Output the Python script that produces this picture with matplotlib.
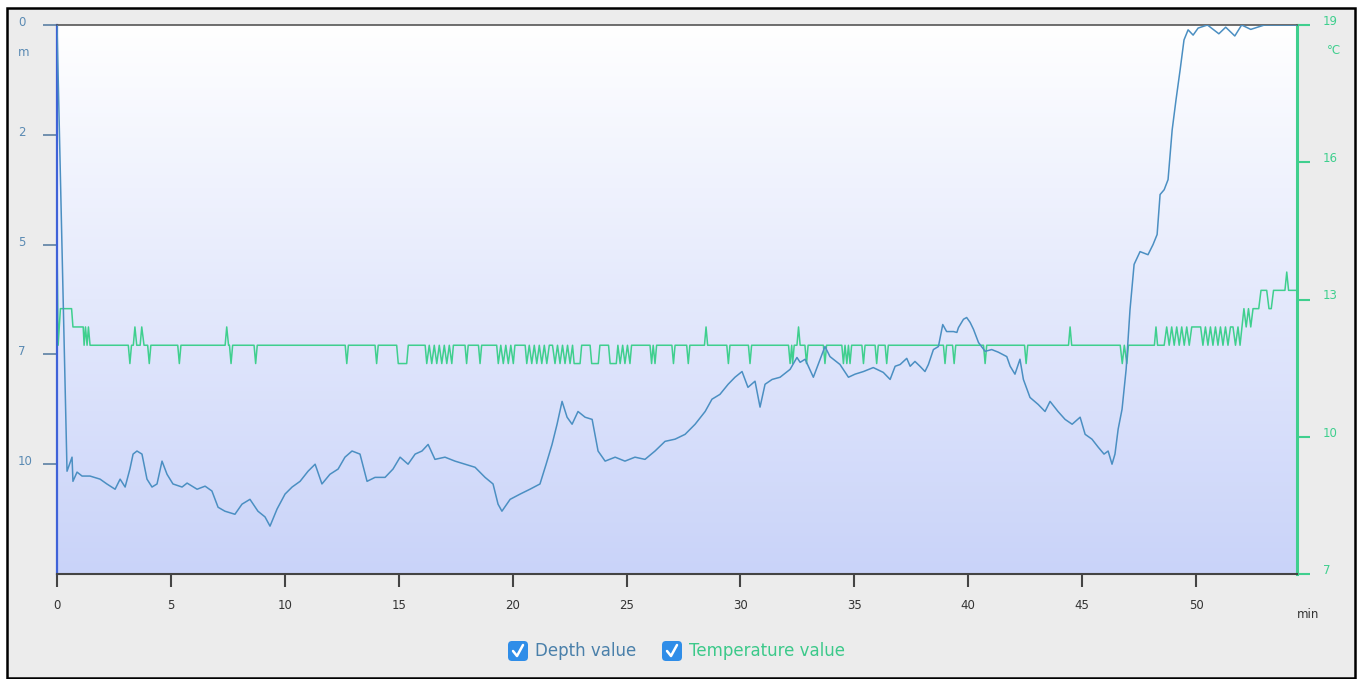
import numpy as np
import matplotlib.pyplot as plt
from matplotlib.patches import Rectangle, FancyBboxPatch
from matplotlib.lines import Line2D
from matplotlib.colors import LinearSegmentedColormap
from matplotlib.transforms import IdentityTransform, ScaledTranslation

# depth (m) against time (min)
depth_t = [0.0, 0.44, 0.66, 0.70, 0.88, 1.10, 1.45, 1.89, 2.19, 2.55, 2.77, 2.99, 3.20, 3.34,
           3.51, 3.73, 3.95, 4.17, 4.39, 4.61, 4.83, 5.09, 5.49, 5.71, 6.15, 6.50, 6.80, 7.07,
           7.37, 7.81, 8.12, 8.47, 8.82, 9.13, 9.35, 9.66, 10.01, 10.32, 10.67, 11.02, 11.33,
           11.63, 11.98, 12.34, 12.64, 12.95, 13.30, 13.61, 13.96, 14.40, 14.75, 15.06, 15.41,
           15.72, 16.02, 16.29, 16.59, 17.03, 17.47, 17.91, 18.35, 18.79, 19.14, 19.36, 19.53,
           19.89, 20.33, 20.76, 21.20, 21.47, 21.73, 21.95, 22.17, 22.39, 22.61, 22.87, 23.18,
           23.49, 23.75, 24.06, 24.50, 24.93, 25.37, 25.81, 26.25, 26.69, 27.13, 27.57, 28.01,
           28.45, 28.75, 29.10, 29.46, 29.76, 30.07, 30.33, 30.64, 30.86, 31.08, 31.39, 31.74,
           32.18, 32.48, 32.62, 32.84, 33.20, 33.71, 33.93, 34.37, 34.74, 35.03, 35.40, 35.83,
           36.27, 36.57, 36.79, 37.01, 37.30, 37.45, 37.66, 37.88, 38.10, 38.25, 38.47, 38.69,
           38.88, 39.05, 39.35, 39.50, 39.57, 39.79, 39.93, 40.08, 40.23, 40.45, 40.74, 41.03,
           41.32, 41.69, 41.84, 42.05, 42.27, 42.42, 42.71, 43.07, 43.37, 43.59, 43.94, 44.25,
           44.56, 44.91, 45.13, 45.43, 45.70, 45.96, 46.14, 46.31, 46.44, 46.58, 46.75, 46.93,
           47.10, 47.28, 47.54, 47.89, 48.11, 48.29, 48.42, 48.60, 48.77, 48.95, 49.12, 49.30,
           49.47, 49.65, 49.87, 50.09, 50.50, 51.00, 51.30, 51.70, 52.00, 52.40, 53.00, 54.43]
depth_m = [0.0, 10.16, 9.84, 10.39, 10.18, 10.27, 10.27, 10.34, 10.45, 10.57, 10.34, 10.52, 10.11,
           9.77, 9.70, 9.77, 10.34, 10.52, 10.45, 9.93, 10.23, 10.45, 10.52, 10.43, 10.57, 10.50,
           10.61, 10.98, 11.07, 11.14, 10.91, 10.80, 11.07, 11.20, 11.41, 11.02, 10.68, 10.52,
           10.39, 10.16, 10.00, 10.45, 10.23, 10.11, 9.84, 9.70, 9.77, 10.39, 10.30, 10.30, 10.11,
           9.84, 10.00, 9.77, 9.70, 9.55, 9.89, 9.84, 9.93, 10.00, 10.07, 10.30, 10.45, 10.91,
           11.07, 10.80, 10.68, 10.57, 10.45, 10.00, 9.55, 9.09, 8.57, 8.93, 9.09, 8.80, 8.93,
           8.98, 9.70, 9.93, 9.84, 9.93, 9.84, 9.89, 9.70, 9.48, 9.43, 9.32, 9.09, 8.80, 8.52,
           8.41, 8.18, 8.02, 7.89, 8.25, 8.11, 8.70, 8.18, 8.07, 8.02, 7.84, 7.57, 7.68, 7.61,
           8.02, 7.32, 7.55, 7.73, 8.02, 7.95, 7.89, 7.80, 7.91, 8.07, 7.77, 7.73, 7.59, 7.77,
           7.66, 7.77, 7.89, 7.73, 7.39, 7.32, 6.82, 6.98, 6.98, 7.00, 6.89, 6.70, 6.66, 6.77,
           6.93, 7.23, 7.43, 7.39, 7.45, 7.55, 7.77, 7.95, 7.61, 8.07, 8.48, 8.64, 8.80, 8.57,
           8.80, 8.98, 9.09, 8.93, 9.32, 9.43, 9.61, 9.77, 9.70, 10.00, 9.77, 9.20, 8.75, 7.84,
           6.48, 5.45, 5.16, 5.23, 5.00, 4.77, 3.86, 3.75, 3.52, 2.39, 1.70, 1.02, 0.34, 0.11,
           0.23, 0.07, 0.00, 0.20, 0.05, 0.25, 0.00, 0.10, 0.00, 0.00]

# temperature (°C) against time (min)
temp_t = [0.0, 0.05, 0.15, 0.64, 0.70, 1.15, 1.19, 1.25, 1.32, 1.38, 1.45,
          3.13, 3.20, 3.27, 3.35, 3.42, 3.50, 3.65, 3.72, 3.82, 3.98, 4.05, 4.12,
          5.30, 5.37, 5.44, 7.38, 7.45, 7.53, 7.57, 7.64, 7.71, 8.65, 8.72, 8.79,
          12.65, 12.72, 12.79, 13.96, 14.03, 14.10, 14.91, 14.98, 15.35, 15.42,
          16.16, 16.23, 16.34, 16.45, 16.56, 16.67, 16.78, 16.89, 17.00, 17.11, 17.22, 17.33, 17.40,
          17.91, 17.98, 18.05, 18.50, 18.57, 18.64,
          19.30, 19.37, 19.48, 19.59, 19.70, 19.81, 19.92, 20.03, 20.10,
          20.55, 20.62, 20.73, 20.84, 20.95, 21.06, 21.17, 21.28, 21.39, 21.50, 21.61,
          21.75, 21.86, 21.97, 22.08, 22.19, 22.30, 22.41, 22.52, 22.63, 22.70, 22.96, 23.03,
          23.40, 23.47, 23.76, 23.83, 24.21, 24.28, 24.55, 24.62, 24.72, 24.83, 24.93, 25.04,
          25.15, 25.22, 26.03, 26.10, 26.17, 26.25, 26.32, 26.99, 27.06, 27.13, 27.64, 27.71,
          27.78, 28.42, 28.49, 28.56, 29.40, 29.47, 29.54, 30.35, 30.42, 30.49,
          32.11, 32.18, 32.25, 32.29, 32.36, 32.48, 32.55, 32.62, 32.83, 32.90, 32.97,
          33.64, 33.71, 33.78, 34.45, 34.52, 34.59, 34.67, 34.74, 34.81, 34.88,
          35.33, 35.40, 35.47, 35.91, 35.98, 36.05, 36.35, 36.42, 36.49,
          38.91, 38.98, 39.05, 39.31, 39.38, 39.45, 40.67, 40.74, 40.81, 42.47, 42.54, 42.61,
          44.40, 44.47, 44.54, 46.67, 46.76, 46.85, 46.96, 47.03, 48.17, 48.24, 48.31,
          48.60, 48.71, 48.82, 48.93, 49.04, 49.15, 49.26, 49.37, 49.48, 49.59, 49.70, 49.81,
          50.20, 50.30, 50.41, 50.52, 50.63, 50.74, 50.85, 50.96, 51.07, 51.18, 51.29, 51.40,
          51.51, 51.62, 51.73, 51.84, 51.93, 52.10, 52.20, 52.30, 52.40, 52.50, 52.75, 52.85,
          53.10, 53.20, 53.30, 53.40, 53.90, 53.98, 54.06, 54.43]
temp_c = [14.3, 12.0, 12.8, 12.8, 12.4, 12.4, 12.0, 12.4, 12.0, 12.4, 12.0,
          12.0, 11.6, 12.0, 12.0, 12.4, 12.0, 12.0, 12.4, 12.0, 12.0, 11.6, 12.0,
          12.0, 11.6, 12.0, 12.0, 12.4, 12.0, 12.0, 11.6, 12.0, 12.0, 11.6, 12.0,
          12.0, 11.6, 12.0, 12.0, 11.6, 12.0, 12.0, 11.6, 11.6, 12.0,
          12.0, 11.6, 12.0, 11.6, 12.0, 11.6, 12.0, 11.6, 12.0, 11.6, 12.0, 11.6, 12.0,
          12.0, 11.6, 12.0, 12.0, 11.6, 12.0,
          12.0, 11.6, 12.0, 11.6, 12.0, 11.6, 12.0, 11.6, 12.0,
          12.0, 11.6, 12.0, 11.6, 12.0, 11.6, 12.0, 11.6, 12.0, 11.6, 12.0,
          12.0, 11.6, 12.0, 11.6, 12.0, 11.6, 12.0, 11.6, 12.0, 11.6, 11.6, 12.0,
          12.0, 11.6, 11.6, 12.0, 12.0, 11.6, 11.6, 12.0, 11.6, 12.0, 11.6, 12.0,
          11.6, 12.0, 12.0, 11.6, 12.0, 11.6, 12.0, 12.0, 11.6, 12.0, 12.0, 11.6,
          12.0, 12.0, 12.4, 12.0, 12.0, 11.6, 12.0, 12.0, 11.6, 12.0,
          12.0, 11.6, 12.0, 11.6, 12.0, 12.0, 12.4, 12.0, 12.0, 11.6, 12.0,
          12.0, 11.6, 12.0, 12.0, 11.6, 12.0, 11.6, 12.0, 11.6, 12.0,
          12.0, 11.6, 12.0, 12.0, 11.6, 12.0, 12.0, 11.6, 12.0,
          12.0, 11.6, 12.0, 12.0, 11.6, 12.0, 12.0, 11.6, 12.0, 12.0, 11.6, 12.0,
          12.0, 12.4, 12.0, 12.0, 11.6, 12.0, 11.6, 12.0, 12.0, 12.4, 12.0,
          12.0, 12.4, 12.0, 12.4, 12.0, 12.4, 12.0, 12.4, 12.0, 12.4, 12.0, 12.4,
          12.4, 12.0, 12.4, 12.0, 12.4, 12.0, 12.4, 12.0, 12.4, 12.0, 12.4, 12.0,
          12.4, 12.4, 12.0, 12.4, 12.0, 12.8, 12.4, 12.8, 12.4, 12.8, 12.8, 13.2,
          13.2, 12.8, 12.8, 13.2, 13.2, 13.6, 13.2, 13.2]

depth_ticks = [0, 2.5, 5, 7.5, 10]
depth_labels = ['0', '2', '5', '7', '10']
temp_ticks = [7, 10, 13, 16, 19]
time_ticks = [0, 5, 10, 15, 20, 25, 30, 35, 40, 45, 50]

W, H = 1364, 679
blue_line = '#4b8fc2'
green = '#3fcf8e'
blue_txt = '#5a8ab3'

plt.rcParams['font.family'] = 'DejaVu Sans'
fig = plt.figure(figsize=(W / 100, H / 100), dpi=100, facecolor='white')

# grey panel with black frame
frame = Rectangle((7, 1), 1348, 670, transform=IdentityTransform(),
                  facecolor='#ececec', edgecolor='black', lw=1.8, zorder=0)
fig.patches.append(frame)

ax = fig.add_axes([57 / W, 1 - 574 / H, 1240 / W, 549 / H])
ax2 = ax.twinx()
ax.set_zorder(2)
ax2.set_zorder(1)
ax.patch.set_visible(False)

# background gradient, white to light lavender
cmap = LinearSegmentedColormap.from_list('bg', ['#ffffff', '#c9d3f9'])
grad = np.linspace(0, 1, 256).reshape(-1, 1)
ax2.imshow(grad, extent=[0, 1, 0, 1], transform=ax2.transAxes, aspect='auto',
           cmap=cmap, origin='upper', zorder=0)

ax2.plot(temp_t, temp_c, color=green, lw=1.1, zorder=2)
ax.plot(depth_t, depth_m, color=blue_line, lw=1.1, zorder=3)

ax.set_xlim(0, 54.43)
ax.set_ylim(12.5, 0)
ax2.set_ylim(7, 19)

# spines
ax.spines['left'].set_color('#3f62d8')
ax.spines['left'].set_linewidth(1.6)
ax.spines['top'].set_color('#555555')
ax.spines['top'].set_linewidth(1.2)
ax.spines['bottom'].set_color('#444444')
ax.spines['bottom'].set_linewidth(1.5)
ax.spines['right'].set_visible(False)
for s in ['left', 'top', 'bottom']:
    ax2.spines[s].set_visible(False)
ax2.spines['right'].set_color(green)
ax2.spines['right'].set_linewidth(2.2)

# x axis
ax.set_xticks(time_ticks)
ax.tick_params(axis='x', direction='out', length=9, width=1.5, color='#444444',
               labelsize=8.5, labelcolor='#333333', pad=9)

# left axis (depth)
ax.set_yticks(depth_ticks)
ax.set_yticklabels(depth_labels)
ax.tick_params(axis='y', direction='out', length=10, width=1.2, color='#5b7fa3',
               labelsize=8.5, labelcolor=blue_txt, pad=18)
for lab in ax.get_yticklabels():
    lab.set_ha('left')
    lab.set_transform(lab.get_transform() + ScaledTranslation(0, 0.04, fig.dpi_scale_trans))

# right axis (temperature)
ax2.set_yticks(temp_ticks)
ax2.tick_params(axis='y', direction='out', length=9.5, width=1.5, color=green,
                labelsize=8.5, labelcolor=green, pad=9)
for lab in ax2.get_yticklabels():
    lab.set_transform(lab.get_transform() + ScaledTranslation(0, 0.05, fig.dpi_scale_trans))

# unit labels
fig.text(24 / W, 1 - 52 / H, 'm', color=blue_txt, fontsize=8.5, ha='center', va='center')
fig.text(1334 / W, 1 - 50 / H, '°C', color=green, fontsize=8.5, ha='center', va='center')
fig.text(1308 / W, 1 - 615 / H, 'min', color='#333333', fontsize=8.5, ha='center', va='center')

# legend with check boxes
leg_y = 651
for bx, label, col in [(508, 'Depth value', '#4a80aa'), (662, 'Temperature value', '#3cc98a')]:
    yc = H - leg_y
    box = FancyBboxPatch((bx, yc - 10), 20, 20, boxstyle='round,pad=0,rounding_size=4',
                         transform=IdentityTransform(), facecolor='#2f8de8', edgecolor='none')
    fig.patches.append(box)
    fig.lines.append(Line2D([bx + 5, bx + 9, bx + 15], [yc, yc - 5, yc + 6],
                            transform=IdentityTransform(), color='white', lw=1.8,
                            solid_capstyle='round', solid_joinstyle='round'))
    fig.text((bx + 27) / W, 1 - leg_y / H, label, color=col, fontsize=12,
             ha='left', va='center')

fig.savefig('out.png', dpi=100, facecolor=fig.get_facecolor())
